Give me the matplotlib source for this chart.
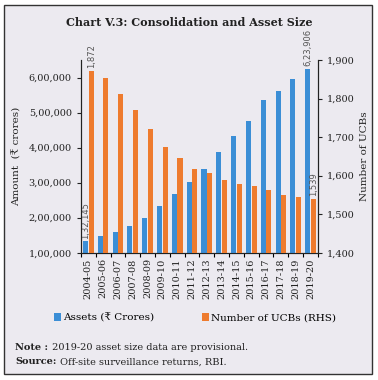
import numpy as np
from matplotlib import pyplot as plt
from matplotlib.patches import Rectangle

## Data ##
years = ["2004-05", "2005-06", "2006-07", "2007-08", "2008-09", "2009-10",
         "2010-11", "2011-12", "2012-13", "2013-14", "2014-15", "2015-16",
         "2016-17", "2017-18", "2018-19", "2019-20"]
# Assets (Rs crores)
assets = [132145, 147800, 158300, 176300, 198000, 234000, 269000, 300500,
          339000, 388000, 433000, 476000, 537000, 561000, 596000, 623906]
# Number of UCBs (RHS)
ucbs = [1872, 1853, 1813, 1770, 1721, 1674, 1645, 1618, 1606, 1589,
        1579, 1574, 1562, 1551, 1544, 1539]

BLUE = "#3B8ED6"
ORANGE = "#EE7B2E"
BG = "#ECEAF0"
SERIF = ["DejaVu Serif", "DejaVu Sans"]

plt.rcParams["font.family"] = SERIF

fig = plt.figure(figsize=(3.78, 3.80), dpi=100)
fig.patch.set_facecolor("white")
fig.patches.append(Rectangle((4 / 378, 1 - 374 / 380), 368 / 378, 369 / 380,
                             transform=fig.transFigure, facecolor=BG,
                             edgecolor="#333333", lw=1.0, zorder=-10))

ax = fig.add_axes([0.214, 0.335, 0.627, 0.507])
ax.patch.set_alpha(0)
ax2 = ax.twinx()

x = np.arange(len(years))
w = 0.34
ax.bar(x - w / 2 - 0.02, assets, w, color=BLUE, label="Assets (₹ Crores)", zorder=3)
ax2.bar(x + w / 2 + 0.02, ucbs, w, color=ORANGE, label="Number of UCBs (RHS)", zorder=3)

ax.set_ylim(100000, 650000)
ax2.set_ylim(1400, 1900)
ax.set_xlim(-0.5, len(years) - 0.5)

ax.set_yticks(range(100000, 600001, 100000))
ax.set_yticklabels([f"{v // 100000},00,000" for v in range(100000, 600001, 100000)])
ax2.set_yticks(range(1400, 1901, 100))
ax2.set_yticklabels([f"{v:,}" for v in range(1400, 1901, 100)])

ax.set_xticks(x)
ax.set_xticklabels(years, rotation=90)
ax.set_xticks(np.arange(-0.5, len(years), 1), minor=True)
ax.tick_params(axis="x", which="major", length=0, pad=4)
ax.tick_params(axis="x", which="minor", length=3, width=0.8)
ax.tick_params(axis="both", labelsize=7, colors="#222222")
ax2.tick_params(axis="y", labelsize=7, colors="#222222")
ax.tick_params(axis="y", length=3)
ax2.tick_params(axis="y", length=3)

for a in (ax, ax2):
    a.spines["top"].set_visible(False)
    for s in ("left", "right", "bottom"):
        a.spines[s].set_color("#222222")
        a.spines[s].set_linewidth(0.8)

ax.set_ylabel("Amount  (₹ crores)", fontsize=7.5, color="#222222", labelpad=5)
ax2.set_ylabel("Number of UCBs", fontsize=7.5, color="#222222", labelpad=4)

# data labels on first and last bars
lab = dict(rotation=90, fontsize=6, color="#555555", ha="center", va="bottom",
           family=["DejaVu Sans"])
ax.text(x[0] - w / 2 - 0.02, assets[0] + 8000, "1,32,145", **lab)
ax.text(x[-1] - w / 2 - 0.02, assets[-1] + 8000, "6,23,906", **lab)
ax2.text(x[0] + w / 2 + 0.02, ucbs[0] + 8, f"{ucbs[0]:,}", **lab)
ax2.text(x[-1] + w / 2 + 0.02, ucbs[-1] + 8, f"{ucbs[-1]:,}", **lab)

fig.text(0.5, 1 - 22 / 380, "Chart V.3: Consolidation and Asset Size",
         ha="center", va="center", fontsize=8, fontweight="bold", color="#222222")

h1, l1 = ax.get_legend_handles_labels()
h2, l2 = ax2.get_legend_handles_labels()
fig.legend(h1 + h2, l1 + l2, loc="center", bbox_to_anchor=(0.516, 1 - 318 / 380),
           ncol=2, frameon=False, fontsize=7.5, handlelength=0.7, handleheight=0.7,
           handletextpad=0.2, columnspacing=4.5)

# footnotes: bold lead-in then regular text right after it
renderer = fig.canvas.get_renderer()
for ypix, lead, rest in [(348, "Note :", " 2019-20 asset size data are provisional."),
                         (362, "Source:", " Off-site surveillance returns, RBI.")]:
    t = fig.text(15 / 378, 1 - ypix / 380, lead, fontsize=7, fontweight="bold",
                 va="center", color="#222222")
    bb = t.get_window_extent(renderer)
    fig.text(bb.x1 / fig.bbox.width + 1 / 378, 1 - ypix / 380, rest, fontsize=7,
             va="center", color="#222222")

fig.savefig("out.png", dpi=100, facecolor=fig.get_facecolor())
